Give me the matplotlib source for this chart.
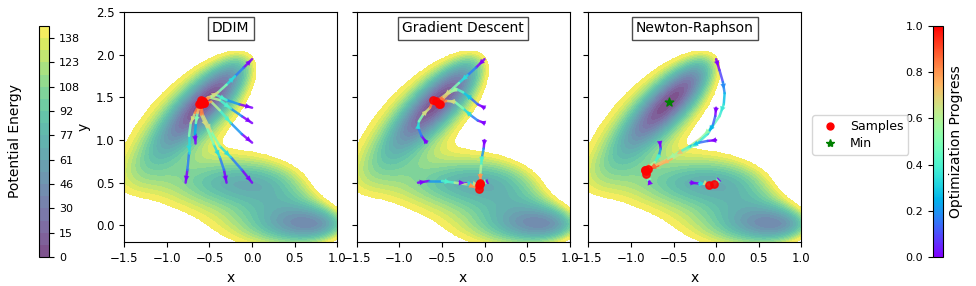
import numpy as np
import matplotlib
matplotlib.use("Agg")
import matplotlib.pyplot as plt
from matplotlib.collections import LineCollection
from matplotlib.colors import Normalize, ListedColormap
from matplotlib.cm import ScalarMappable

# Mueller-Brown potential parameters (background field)
MB_A = [-200, -100, -170, 15]
MB_a = [-1, -1, -6.5, 0.7]
MB_b = [0, 0, 11, 0.6]
MB_c = [-10, -10, -6.5, 0.7]
MB_x0 = [1, 0, -0.5, -1]
MB_y0 = [0, 0.5, 1.5, 1]

panel_titles = ["DDIM", "Gradient Descent", "Newton-Raphson"]

# trajectories: lists of (x list, y list)
ddim_trajs = [
    ([0.0, -0.1, -0.2, -0.3, -0.4, -0.5, -0.58], [1.95, 1.85, 1.75, 1.65, 1.56, 1.5, 1.46]),
    ([0.0, -0.15, -0.3, -0.42, -0.52, -0.58], [1.38, 1.42, 1.47, 1.53, 1.5, 1.45]),
    ([0.0, -0.12, -0.25, -0.38, -0.5, -0.57], [1.2, 1.28, 1.37, 1.47, 1.5, 1.44]),
    ([0.0, -0.12, -0.25, -0.38, -0.48, -0.56], [0.97, 1.07, 1.2, 1.35, 1.45, 1.43]),
    ([0.0, -0.12, -0.25, -0.38, -0.48, -0.58, -0.6], [0.5, 0.65, 0.8, 0.93, 1.1, 1.3, 1.42]),
    ([-0.3, -0.33, -0.38, -0.45, -0.53, -0.6, -0.61], [0.5, 0.65, 0.8, 0.95, 1.15, 1.3, 1.43]),
    ([-0.78, -0.76, -0.74, -0.74, -0.72, -0.67, -0.62], [0.5, 0.65, 0.85, 1.05, 1.2, 1.32, 1.42]),
    ([-0.67, -0.67, -0.66, -0.64, -0.6], [0.97, 1.07, 1.2, 1.32, 1.47]),
]
gd_trajs = [
    ([0.0, -0.1, -0.2, -0.3, -0.4, -0.5, -0.57], [1.95, 1.85, 1.76, 1.67, 1.58, 1.5, 1.46]),
    ([0.0, -0.08, -0.16, -0.25, -0.33, -0.42, -0.5, -0.53], [1.38, 1.42, 1.49, 1.56, 1.6, 1.55, 1.47, 1.42]),
    ([0.0, -0.08, -0.16, -0.25, -0.35, -0.45, -0.52], [1.2, 1.23, 1.29, 1.37, 1.45, 1.46, 1.42]),
    ([0.0, -0.01, -0.03, -0.04, -0.05, -0.05], [1.0, 0.9, 0.8, 0.7, 0.6, 0.5]),
    ([0.0, -0.03, -0.05], [0.5, 0.49, 0.48]),
    ([-0.3, -0.2, -0.1, -0.06], [0.5, 0.49, 0.48, 0.47]),
    ([-0.78, -0.65, -0.5, -0.35, -0.2, -0.07], [0.5, 0.52, 0.52, 0.5, 0.48, 0.43]),
    ([-0.68, -0.74, -0.78, -0.77, -0.72, -0.64, -0.6], [0.97, 1.05, 1.15, 1.22, 1.3, 1.38, 1.47]),
]
nr_trajs = [
    ([0.0, 0.04, 0.08, 0.1, 0.09, 0.04, -0.05, -0.18, -0.35, -0.52, -0.68, -0.82],
     [1.95, 1.82, 1.68, 1.55, 1.42, 1.28, 1.15, 1.02, 0.9, 0.8, 0.71, 0.64]),
    ([0.0, -0.01, -0.04, -0.1, -0.2, -0.35, -0.52, -0.68, -0.83],
     [1.38, 1.28, 1.17, 1.07, 0.98, 0.88, 0.78, 0.7, 0.65]),
    ([0.0, -0.1, -0.2, -0.32, -0.45, -0.6, -0.72, -0.8],
     [1.0, 0.99, 0.97, 0.92, 0.85, 0.76, 0.7, 0.66]),
    ([-0.66, -0.65, -0.67, -0.72, -0.8, -0.84], [0.97, 0.9, 0.82, 0.74, 0.68, 0.65]),
    ([-0.78, -0.8, -0.82], [0.5, 0.56, 0.6]),
    ([-0.3, -0.2, -0.1, -0.08], [0.5, 0.49, 0.48, 0.47]),
    ([0.0, -0.01, -0.02], [0.5, 0.49, 0.48]),
]
all_trajs = [ddim_trajs, gd_trajs, nr_trajs]
arrow_outward = [True, False, False]
min_point = (-0.558, 1.442)

cb_ticks = [0, 15.44, 30.88, 46.32, 61.76, 77.2, 92.64, 108.08, 123.52, 138.96]

# ---- potential field ----
gx = np.linspace(-1.5, 1.0, 300)
gy = np.linspace(-0.2, 2.5, 300)
X, Y = np.meshgrid(gx, gy)
V = np.zeros_like(X)
for A, a, b, c, x0, y0 in zip(MB_A, MB_a, MB_b, MB_c, MB_x0, MB_y0):
    V += A * np.exp(a * (X - x0) ** 2 + b * (X - x0) * (Y - y0) + c * (Y - y0) ** 2)
vmin = V.min()
Z = V - vmin
top = -vmin
Z = np.where(Z > top, np.nan, Z)
levels = np.linspace(0, top, 20)

# viridis seen through alpha 0.7 on white
base = plt.get_cmap("viridis")(np.linspace(0, 1, 256))
blend = base.copy()
blend[:, :3] = 0.7 * base[:, :3] + 0.3
pale_viridis = ListedColormap(blend)

W, H = 976, 286
fig = plt.figure(figsize=(W / 100, H / 100), dpi=100)

def fr(l, t, w, h):
    return [l / W, 1 - (t + h) / H, w / W, h / H]

ax_lefts = [124.3, 356.7, 588.3]
axes = []
norm = Normalize(0, 1)
cmap = plt.get_cmap("rainbow")
cf = None
for i, (lx, trajs) in enumerate(zip(ax_lefts, all_trajs)):
    ax = fig.add_axes(fr(lx, 12.3, 213, 230))
    axes.append(ax)
    cf = ax.contourf(X, Y, Z, levels=levels, cmap=pale_viridis)
    cf.set_edgecolor("face")
    cf.set_linewidth(0.6)
    for xs, ys in trajs:
        xs = np.asarray(xs); ys = np.asarray(ys)
        n = len(xs)
        pts = np.column_stack([xs, ys]).reshape(-1, 1, 2)
        segs = np.concatenate([pts[:-1], pts[1:]], axis=1)
        prog = np.arange(n - 1) / max(n - 1, 1)
        lc = LineCollection(segs, colors=cmap(norm(prog)), linewidths=1.8, alpha=0.85,
                            zorder=3, capstyle="round")
        ax.add_collection(lc)
        for k in range(n - 1):
            if k % 2 == 0 or n <= 4:
                if arrow_outward[i]:
                    p0, p1 = (xs[k + 1], ys[k + 1]), (xs[k], ys[k])
                    tip = (p0[0] + 0.9 * (p1[0] - p0[0]), p0[1] + 0.9 * (p1[1] - p0[1]))
                    start = (p0[0] + 0.5 * (p1[0] - p0[0]), p0[1] + 0.5 * (p1[1] - p0[1]))
                else:
                    p0, p1 = (xs[k], ys[k]), (xs[k + 1], ys[k + 1])
                    tip = (p0[0] + 0.65 * (p1[0] - p0[0]), p0[1] + 0.65 * (p1[1] - p0[1]))
                    start = (p0[0] + 0.3 * (p1[0] - p0[0]), p0[1] + 0.3 * (p1[1] - p0[1]))
                ax.annotate("", xy=tip, xytext=start,
                            arrowprops=dict(arrowstyle="-|>", color=cmap(norm(prog[k])),
                                            lw=0, mutation_scale=10, alpha=0.9,
                                            shrinkA=0, shrinkB=0), zorder=4)
        ax.scatter([xs[-1]], [ys[-1]], color="red", s=28, alpha=0.85, zorder=5,
                   label="Samples")
    if i == 2:
        ax.scatter([min_point[0]], [min_point[1]], color="green", marker="*", s=40,
                   zorder=6, label="Min")
    ax.set_xlim(-1.5, 1.0)
    ax.set_ylim(-0.2, 2.5)
    ax.set_xticks([-1.5, -1.0, -0.5, 0.0, 0.5, 1.0])
    ax.set_yticks([0.0, 0.5, 1.0, 1.5, 2.0, 2.5])
    ax.tick_params(labelsize=8.5)
    ax.set_xlabel("x", fontsize=10)
    if i == 0:
        ax.set_ylabel("y", fontsize=10)
    else:
        ax.set_yticklabels([])
    ax.text(0.5, 0.93, panel_titles[i], transform=ax.transAxes, ha="center", va="center",
            fontsize=10, bbox=dict(boxstyle="square,pad=0.3", fc="white", ec="0.3", lw=1))

# legend
h1 = plt.Line2D([], [], marker="o", color="red", ls="", markersize=5)
h2 = plt.Line2D([], [], marker="*", color="green", ls="", markersize=6)
fig.legend([h1, h2], ["Samples", "Min"], loc="center left",
           bbox_to_anchor=(806 / W, 1 - 135 / H), fontsize=9, frameon=True,
           handletextpad=0.6, borderpad=0.4, labelspacing=0.3)

# left colorbar
cax1 = fig.add_axes(fr(39, 26, 10.3, 231))
cb1 = fig.colorbar(cf, cax=cax1)
cb1.set_ticks(cb_ticks)
cb1.set_ticklabels([str(int(t)) for t in cb_ticks])
cax1.yaxis.set_ticks_position("right")
cax1.yaxis.set_label_position("left")
cb1.set_label("Potential Energy", fontsize=10, labelpad=12)
cax1.tick_params(labelsize=8)

# right colorbar
cax2 = fig.add_axes(fr(932.7, 26, 10.6, 231))
sm = ScalarMappable(norm=norm, cmap=cmap)
cb2 = fig.colorbar(sm, cax=cax2)
cax2.yaxis.set_ticks_position("left")
cax2.yaxis.set_label_position("right")
cb2.set_ticks([0.0, 0.2, 0.4, 0.6, 0.8, 1.0])
cb2.set_label("Optimization Progress", fontsize=10)
cax2.tick_params(labelsize=8)

fig.savefig("out.png", dpi=100)
